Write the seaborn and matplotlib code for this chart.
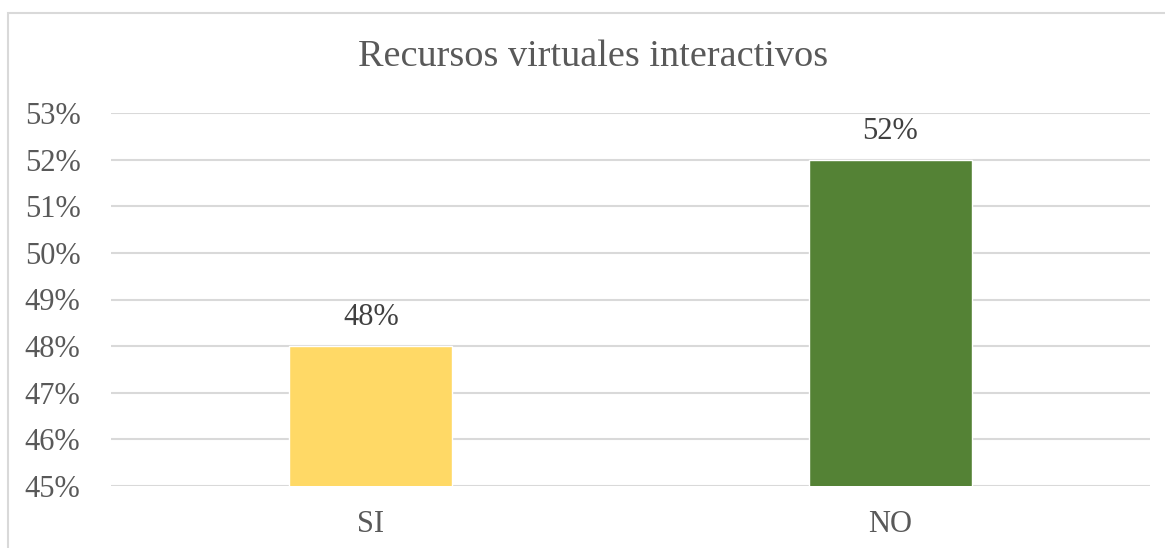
import matplotlib
matplotlib.use("Agg")
import matplotlib.pyplot as plt
import seaborn as sns
import pandas as pd
from matplotlib.patches import Rectangle

categories = ["SI", "NO"]
values = [48, 52]
labels = ["48%", "52%"]
colors = ["#FFD966", "#548235"]
yticks = [45, 46, 47, 48, 49, 50, 51, 52, 53]

sns.set_theme(style="white")
plt.rcParams['font.family'] = ['Liberation Serif', 'DejaVu Serif']

df = pd.DataFrame({"cat": categories, "val": values})

fig = plt.figure(figsize=(11.65, 5.48), dpi=100)
ax = fig.add_axes([111/1165, 1-486/548, (1150-111)/1165, (486-113)/548])
sns.barplot(data=df, x="cat", y="val", hue="cat", palette=colors, width=0.314,
            legend=False, ax=ax, saturation=1, zorder=3)
ax.set_ylim(45, 53)
ax.set_xlim(-0.5, 1.5)
ax.set_yticks(yticks)
ax.set_yticklabels([f"{t}%" for t in yticks])
ax.yaxis.grid(True, color="#D9D9D9", linewidth=1.5, zorder=0)
ax.set_axisbelow(True)
for s in ax.spines.values():
    s.set_visible(False)
ax.tick_params(axis="both", length=0, labelsize=22, labelcolor="#595959")
ax.tick_params(axis="y", pad=22)
ax.tick_params(axis="x", pad=17)
ax.set_xlabel("")
ax.set_ylabel("")
for i, (v, lab) in enumerate(zip(values, labels)):
    ax.annotate(lab, (i, v), xytext=(0, 10), textcoords="offset points",
                ha="center", va="bottom", fontsize=22, color="#404040")
fig.text(593/1165, 1-57/548, "Recursos virtuales interactivos", ha="center", va="center",
         fontsize=27.5, color="#595959")
fig.patches.append(Rectangle((8/1165, -0.1), 1.2, 1-13/548+0.1, transform=fig.transFigure,
                             fill=False, edgecolor="#D9D9D9", linewidth=1.5))
fig.savefig("out.png", dpi=100)
